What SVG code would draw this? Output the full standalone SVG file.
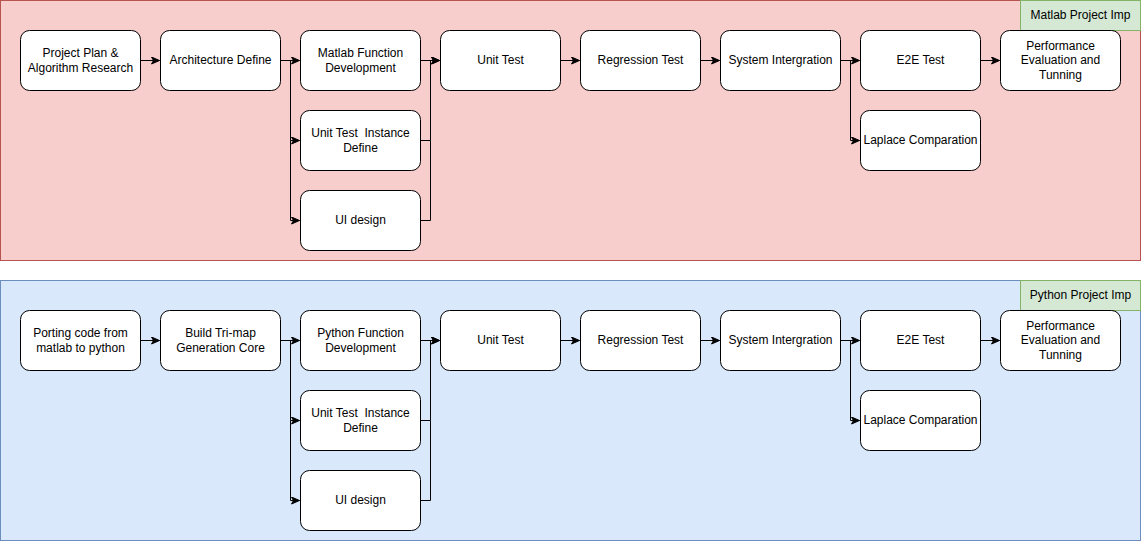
<svg xmlns="http://www.w3.org/2000/svg" width="1141" height="542" viewBox="0 0 1141 542">
<defs>
<style>
.node rect{fill:#ffffff;stroke:#000000;stroke-width:1}
text{font-family:"Liberation Sans",Arial,Helvetica,sans-serif;font-size:12px;fill:#000000;text-anchor:middle}
.edge{fill:none;stroke:#000000;stroke-width:1}
</style>
<marker id="arr" viewBox="0 0 10 8" refX="9" refY="4" markerWidth="10" markerHeight="8" markerUnits="userSpaceOnUse" orient="auto">
<path d="M1,0.5 L9,4 L1,7.5 L3,4 Z" fill="#000" stroke="#000" stroke-width="1"/>
</marker>
</defs>

<g id="container-matlab">
<rect x="0.5" y="0.5" width="1140" height="260" fill="#f8cecc" stroke="#b85450"/>
</g>
<g id="label-matlab">
<rect x="1020.5" y="0.5" width="120" height="30" fill="#d5e8d4" stroke="#82b366"/>
<text x="1080.5" y="19">Matlab Project Imp</text>
</g>
<g id="container-python">
<rect x="0.5" y="280.5" width="1140" height="260" fill="#dae8fc" stroke="#6c8ebf"/>
</g>
<g id="label-python">
<rect x="1020.5" y="280.5" width="120" height="30" fill="#d5e8d4" stroke="#82b366"/>
<text x="1080.5" y="299">Python Project Imp</text>
</g>

<g id="connectors">
<path class="edge" d="M140.5,60.5 H159.5" marker-end="url(#arr)"/>
<path class="edge" d="M280.5,60.5 H299.5" marker-end="url(#arr)"/>
<path class="edge" d="M290.5,60.5 V140.5 H299.5" marker-end="url(#arr)"/>
<path class="edge" d="M290.5,140.5 V220.5 H299.5" marker-end="url(#arr)"/>
<path class="edge" d="M420.5,60.5 H439.5" marker-end="url(#arr)"/>
<path class="edge" d="M420.5,140.5 H430.5 V60.5 H439.5" marker-end="url(#arr)"/>
<path class="edge" d="M420.5,220.5 H430.5 V140.5"/>
<path class="edge" d="M560.5,60.5 H579.5" marker-end="url(#arr)"/>
<path class="edge" d="M700.5,60.5 H719.5" marker-end="url(#arr)"/>
<path class="edge" d="M840.5,60.5 H859.5" marker-end="url(#arr)"/>
<path class="edge" d="M850.5,60.5 V140.5 H859.5" marker-end="url(#arr)"/>
<path class="edge" d="M980.5,60.5 H999.5" marker-end="url(#arr)"/>

<path class="edge" d="M140.5,340.5 H159.5" marker-end="url(#arr)"/>
<path class="edge" d="M280.5,340.5 H299.5" marker-end="url(#arr)"/>
<path class="edge" d="M290.5,340.5 V420.5 H299.5" marker-end="url(#arr)"/>
<path class="edge" d="M290.5,420.5 V500.5 H299.5" marker-end="url(#arr)"/>
<path class="edge" d="M420.5,340.5 H439.5" marker-end="url(#arr)"/>
<path class="edge" d="M420.5,420.5 H430.5 V340.5 H439.5" marker-end="url(#arr)"/>
<path class="edge" d="M420.5,500.5 H430.5 V420.5"/>
<path class="edge" d="M560.5,340.5 H579.5" marker-end="url(#arr)"/>
<path class="edge" d="M700.5,340.5 H719.5" marker-end="url(#arr)"/>
<path class="edge" d="M840.5,340.5 H859.5" marker-end="url(#arr)"/>
<path class="edge" d="M850.5,340.5 V420.5 H859.5" marker-end="url(#arr)"/>
<path class="edge" d="M980.5,340.5 H999.5" marker-end="url(#arr)"/>
</g>

<g id="m-plan" class="node"><rect x="20.5" y="30.5" width="120" height="60" rx="9"/><text x="80.5" y="57">Project Plan &amp;</text><text x="80.5" y="72">Algorithm Research</text></g>
<g id="m-arch" class="node"><rect x="160.5" y="30.5" width="120" height="60" rx="9"/><text x="220.5" y="64">Architecture Define</text></g>
<g id="m-func" class="node"><rect x="300.5" y="30.5" width="120" height="60" rx="9"/><text x="360.5" y="57">Matlab Function</text><text x="360.5" y="72">Development</text></g>
<g id="m-uti" class="node"><rect x="300.5" y="110.5" width="120" height="60" rx="9"/><text x="360.5" y="137" xml:space="preserve">Unit Test  Instance</text><text x="360.5" y="152">Define</text></g>
<g id="m-ui" class="node"><rect x="300.5" y="190.5" width="120" height="60" rx="9"/><text x="360.5" y="224">UI design</text></g>
<g id="m-unit" class="node"><rect x="440.5" y="30.5" width="120" height="60" rx="9"/><text x="500.5" y="64">Unit Test</text></g>
<g id="m-reg" class="node"><rect x="580.5" y="30.5" width="120" height="60" rx="9"/><text x="640.5" y="64">Regression Test</text></g>
<g id="m-sys" class="node"><rect x="720.5" y="30.5" width="120" height="60" rx="9"/><text x="780.5" y="64">System Intergration</text></g>
<g id="m-e2e" class="node"><rect x="860.5" y="30.5" width="120" height="60" rx="9"/><text x="920.5" y="64">E2E Test</text></g>
<g id="m-lap" class="node"><rect x="860.5" y="110.5" width="120" height="60" rx="9"/><text x="920.5" y="144">Laplace Comparation</text></g>
<g id="m-perf" class="node"><rect x="1000.5" y="30.5" width="120" height="60" rx="9"/><text x="1060.5" y="50">Performance</text><text x="1060.5" y="64">Evaluation and</text><text x="1060.5" y="79">Tunning</text></g>

<g id="p-port" class="node"><rect x="20.5" y="310.5" width="120" height="60" rx="9"/><text x="80.5" y="337">Porting code from</text><text x="80.5" y="352">matlab to python</text></g>
<g id="p-build" class="node"><rect x="160.5" y="310.5" width="120" height="60" rx="9"/><text x="220.5" y="337">Build Tri-map</text><text x="220.5" y="352">Generation Core</text></g>
<g id="p-func" class="node"><rect x="300.5" y="310.5" width="120" height="60" rx="9"/><text x="360.5" y="337">Python Function</text><text x="360.5" y="352">Development</text></g>
<g id="p-uti" class="node"><rect x="300.5" y="390.5" width="120" height="60" rx="9"/><text x="360.5" y="417" xml:space="preserve">Unit Test  Instance</text><text x="360.5" y="432">Define</text></g>
<g id="p-ui" class="node"><rect x="300.5" y="470.5" width="120" height="60" rx="9"/><text x="360.5" y="504">UI design</text></g>
<g id="p-unit" class="node"><rect x="440.5" y="310.5" width="120" height="60" rx="9"/><text x="500.5" y="344">Unit Test</text></g>
<g id="p-reg" class="node"><rect x="580.5" y="310.5" width="120" height="60" rx="9"/><text x="640.5" y="344">Regression Test</text></g>
<g id="p-sys" class="node"><rect x="720.5" y="310.5" width="120" height="60" rx="9"/><text x="780.5" y="344">System Intergration</text></g>
<g id="p-e2e" class="node"><rect x="860.5" y="310.5" width="120" height="60" rx="9"/><text x="920.5" y="344">E2E Test</text></g>
<g id="p-lap" class="node"><rect x="860.5" y="390.5" width="120" height="60" rx="9"/><text x="920.5" y="424">Laplace Comparation</text></g>
<g id="p-perf" class="node"><rect x="1000.5" y="310.5" width="120" height="60" rx="9"/><text x="1060.5" y="330">Performance</text><text x="1060.5" y="344">Evaluation and</text><text x="1060.5" y="359">Tunning</text></g>
</svg>
